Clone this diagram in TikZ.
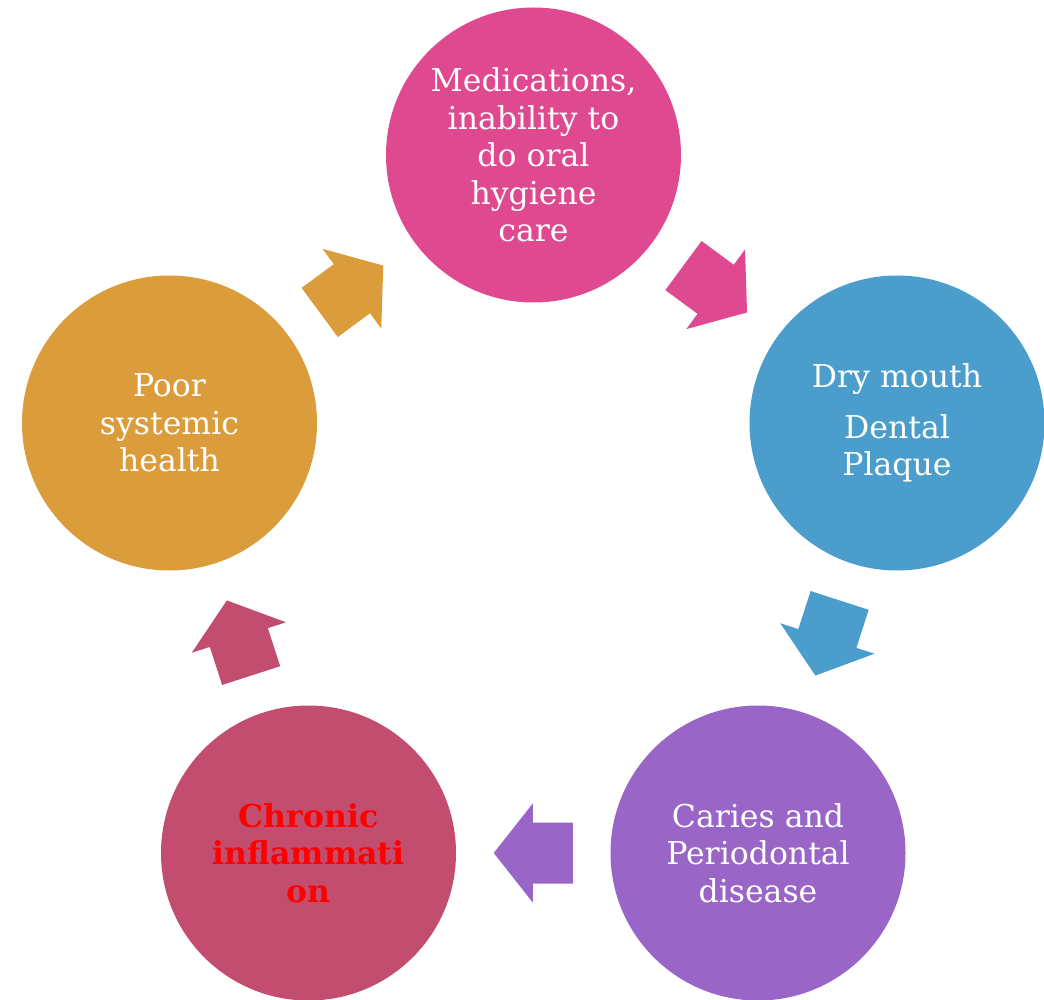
\documentclass[tikz,border=0pt]{standalone}
\usepackage{fontspec}
\setmainfont{DejaVu Serif}
\usetikzlibrary{calc}

\definecolor{medpink}{RGB}{222,73,143}
\definecolor{dryblue}{RGB}{75,158,204}
\definecolor{cariespurple}{RGB}{153,102,200}
\definecolor{chronicred}{RGB}{194,77,110}
\definecolor{poororange}{RGB}{219,156,60}

\tikzset{
  stage/.style={circle, minimum size=295pt, inner sep=0pt, text=white,
    align=center, font=\fontsize{31.5}{37.5}\selectfont},
}

% Block arrow from one stage towards the next, centred between them
\newcommand\cyclearrow[3]{%
  \coordinate (m) at ($(#1)!0.5!(#2)$);
  \coordinate (t) at ($(m)!-39.5pt!(#2)$);
  \coordinate (h) at ($(m)!0.5pt!(#2)$);
  \fill[#3] ($(t)!30.5pt!90:(#2)$) -- ($(h)!30.5pt!90:(#2)$)
    -- ($(h)!49.5pt!90:(#2)$) -- ($(m)!39.5pt!(#2)$)
    -- ($(h)!49.5pt!-90:(#2)$) -- ($(h)!30.5pt!-90:(#2)$)
    -- ($(t)!30.5pt!-90:(#2)$) -- cycle;
}

\begin{document}
\begin{tikzpicture}[x=1pt,y=-1pt]
  \useasboundingbox (0,0) rectangle (1044,1000);

  \node[stage, fill=medpink] (med) at (533.5,155)
    {Medications,\\inability to\\do oral\\hygiene\\care};
  \node[stage, fill=dryblue] (dry) at (897,423)
    {Dry mouth\\[13.5pt]Dental\\Plaque};
  \node[stage, fill=cariespurple] (caries) at (758,853)
    {Caries and\\Periodontal\\disease};
  \node[stage, fill=chronicred, text=red, font=\fontsize{31.5}{37.5}\selectfont\bfseries] (chronic) at (308.5,853)
    {Chronic\\inflammati\\on};
  \node[stage, fill=poororange] (poor) at (169.5,423)
    {Poor\\systemic\\health};

  \cyclearrow{med}{dry}{medpink}
  \cyclearrow{dry}{caries}{dryblue}
  \cyclearrow{caries}{chronic}{cariespurple}
  \cyclearrow{chronic}{poor}{chronicred}
  \cyclearrow{poor}{med}{poororange}
\end{tikzpicture}
\end{document}
